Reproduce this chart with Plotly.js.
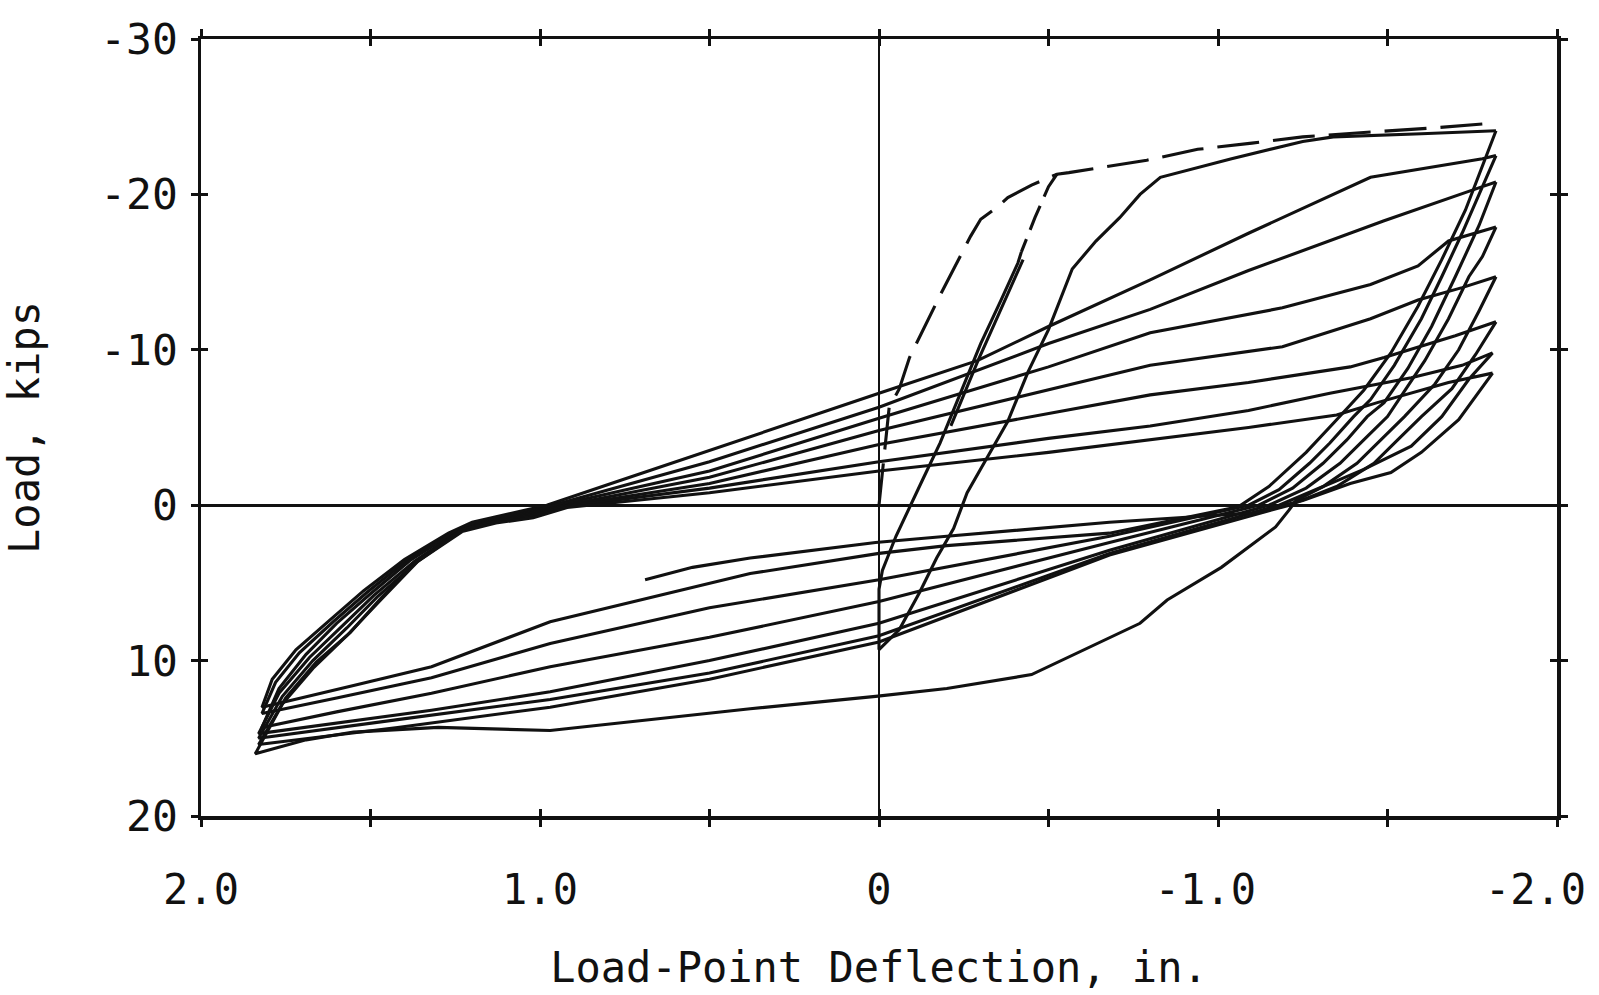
<!DOCTYPE html>
<html>
<head>
<meta charset="utf-8">
<script src="https://cdn.plot.ly/plotly-3.0.1.min.js"></script>
<style>
  html, body { margin: 0; padding: 0; background: #ffffff; }
  #chart { width: 1599px; height: 995px; }
</style>
</head>
<body>
<div id="chart"></div>
<script>
// ---------------- DATA (deflection in., load kips) ----------------
// axis ticks
const xTickVals = [2, 1.5, 1, 0.5, 0, -0.5, -1, -1.5, -2];
const xTickText = ['2.0', '', '1.0', '', '0', '', '-1.0\u00A0', '', ''];
const xEndLabel = '-2.0';          // label of the last x tick (placed inside the page edge)
const xEndValue = -2;
const yTickVals = [-30, -20, -10, 0, 10, 20];
const yTickText = ['-30', '-20', '-10', '0', '10', '20'];

// virgin loading curve and monotonic envelope (dashed)
const virginX = [0, -0.03, -0.06, -0.09, -0.18, -0.27, -0.30, -0.35, -0.38, -0.45, -0.525, -0.56, -0.79, -0.94, -1.10, -1.25, -1.44, -1.65, -1.82];
const virginY = [0, -6.3, -7.5, -9.5, -13.5, -17.3, -18.4, -19.2, -19.8, -20.6, -21.3, -21.4, -22.2, -22.9, -23.3, -23.7, -24.0, -24.3, -24.6];

// first unloading from the virgin corner (upper part dashed)
const firstUnloadDashX = [-0.525, -0.50, -0.46, -0.42];
const firstUnloadDashY = [-21.3, -20.5, -18.5, -16.3];
const firstUnloadX = [-0.42, -0.41, -0.36, -0.30, -0.24, -0.18, -0.13, -0.09, -0.05, -0.01, 0.0, 0.0];
const firstUnloadY = [-16.3, -15.6, -13.2, -10.4, -7.2, -4.0, -1.7, 0.1, 2.0, 4.2, 5.4, 9.3];
const firstUnloadTwinX = [-0.425, -0.36, -0.292, -0.212];
const firstUnloadTwinY = [-15.8, -12.6, -9.3, -5.1];

// reloading to the first full peak
const reloadX = [0.0, -0.06, -0.12, -0.17, -0.22, -0.26, -0.32, -0.38, -0.44, -0.50, -0.57, -0.64, -0.71, -0.77, -0.83, -1.04, -1.25, -1.34, -1.60, -1.82];
const reloadY = [9.3, 8.0, 5.6, 3.4, 1.5, -0.8, -3.1, -5.4, -8.6, -11.3, -15.2, -17.0, -18.5, -20.0, -21.1, -22.3, -23.4, -23.7, -23.9, -24.1];

// full cycles: unload from right peak, reload to left peak, unload, reload to next right peak
const cycle1X = [-1.82, -1.79, -1.73, -1.66, -1.59, -1.51, -1.43, -1.35, -1.26, -1.15, -1.06,
                 -0.68, -0.2, 0.0, 0.38, 0.97, 1.32, 1.55, 1.75, 1.82,
                 1.79, 1.72, 1.62, 1.52, 1.40, 1.27, 1.20, 1.08, 0.98,
                 0.79, 0.41, 0.0, -0.29, -0.5, -0.8, -1.09, -1.45, -1.78, -1.82];
const cycle1Y = [-24.1, -22.4, -19.0, -15.8, -12.8, -9.8, -7.4, -5.5, -3.4, -1.2, 0.1,
                 1.8, 2.6, 3.1, 4.4, 7.5, 10.4, 11.6, 12.6, 13.0,
                 11.2, 9.3, 7.4, 5.5, 3.5, 1.8, 1.1, 0.5, 0.0,
                 -1.4, -4.2, -7.2, -9.3, -11.5, -14.5, -17.5, -21.1, -22.3, -22.5];

const cycle2X = [-1.82, -1.78, -1.72, -1.66, -1.60, -1.52, -1.45, -1.40, -1.33, -1.27, -1.18, -1.09,
                 -0.68, 0.0, 0.5, 0.97, 1.32, 1.60, 1.82,
                 1.78, 1.71, 1.61, 1.51, 1.39, 1.26, 1.19, 1.07, 0.97,
                 0.5, 0.0, -0.5, -0.8, -1.09, -1.49, -1.78, -1.82];
const cycle2Y = [-22.5, -20.5, -17.5, -14.7, -12.0, -9.0, -6.8, -5.7, -4.0, -2.7, -1.0, 0.0,
                 2.0, 4.8, 6.6, 8.9, 11.1, 12.4, 13.4,
                 11.4, 9.5, 7.5, 5.6, 3.5, 1.8, 1.1, 0.55, 0.05,
                 -2.8, -6.3, -10.4, -12.6, -15.1, -18.3, -20.5, -20.8];

const cycle3X = [-1.82, -1.77, -1.70, -1.63, -1.56, -1.49, -1.44, -1.38, -1.31, -1.22, -1.12,
                 -0.68, 0.0, 0.5, 0.97, 1.32, 1.60, 1.82,
                 1.77, 1.69, 1.60, 1.50, 1.38, 1.25, 1.17, 1.06, 0.96,
                 0.5, 0.0, -0.5, -0.8, -1.19, -1.45, -1.59, -1.68, -1.82];
const cycle3Y = [-20.8, -18.0, -14.7, -11.5, -8.8, -6.6, -5.7, -4.2, -2.7, -1.1, 0.0,
                 2.4, 6.2, 8.5, 10.4, 12.1, 13.3, 14.3,
                 11.8, 9.6, 7.6, 5.7, 3.5, 1.7, 1.1, 0.6, 0.05,
                 -2.2, -5.6, -8.9, -11.1, -12.7, -14.2, -15.4, -17.0, -17.9];

const cycle4X = [-1.82, -1.78, -1.74, -1.68, -1.61, -1.54, -1.50, -1.43, -1.36, -1.26, -1.15,
                 -0.68, 0.0, 0.5, 0.97, 1.32, 1.60, 1.83,
                 1.77, 1.68, 1.58, 1.49, 1.37, 1.24, 1.16, 1.05, 0.95,
                 0.5, 0.0, -0.5, -0.8, -1.19, -1.45, -1.59, -1.72, -1.82];
const cycle4Y = [-17.9, -16.0, -14.7, -12.0, -9.3, -7.0, -5.7, -4.2, -2.7, -1.1, 0.0,
                 2.9, 7.6, 10.0, 12.0, 13.2, 14.0, 14.7,
                 12.1, 9.8, 7.7, 5.8, 3.6, 1.7, 1.1, 0.65, 0.1,
                 -1.8, -4.8, -7.4, -9.0, -10.2, -12.0, -13.2, -14.0, -14.7];

const cycle5X = [-1.82, -1.77, -1.71, -1.64, -1.55, -1.48, -1.41, -1.31, -1.18,
                 -0.68, 0.0, 0.5, 0.97, 1.42, 1.83,
                 1.76, 1.67, 1.57, 1.48, 1.36, 1.23, 1.15, 1.04, 0.94,
                 0.5, 0.0, -0.5, -0.8, -1.09, -1.39, -1.49, -1.70, -1.82];
const cycle5Y = [-14.7, -12.5, -10.0, -7.8, -5.7, -4.2, -2.7, -1.2, 0.0,
                 3.1, 8.4, 10.8, 12.5, 13.8, 15.0,
                 12.3, 10.0, 7.9, 5.9, 3.6, 1.6, 1.1, 0.7, 0.1,
                 -1.4, -3.9, -5.9, -7.1, -7.9, -8.9, -9.5, -10.9, -11.8];

const cycle6X = [-1.82, -1.76, -1.69, -1.60, -1.53, -1.46, -1.35, -1.21,
                 -0.68, 0.0, 0.5, 0.97, 1.42, 1.83,
                 1.75, 1.66, 1.56, 1.47, 1.36, 1.23, 1.14, 1.03, 0.93,
                 0.5, 0.0, -0.5, -0.8, -1.09, -1.33, -1.57, -1.72, -1.81];
const cycle6Y = [-11.8, -9.7, -7.5, -5.7, -4.2, -2.7, -1.2, 0.0,
                 3.2, 8.8, 11.2, 13.0, 14.3, 15.4,
                 12.4, 10.1, 8.2, 6.0, 3.5, 1.6, 1.1, 0.75, 0.1,
                 -1.1, -2.8, -4.3, -5.1, -6.1, -7.2, -8.2, -9.0, -9.8];

const cycle7X = [-1.81, -1.74, -1.66, -1.57, -1.43, -1.31, -1.23,
                 -1.21, -1.17, -1.09, -1.01, -0.85, -0.77, -0.45, -0.20, 0.01, 0.38, 0.97, 1.30, 1.55, 1.69, 1.84,
                 1.76, 1.67, 1.57, 1.47, 1.36, 1.23, 1.13, 1.02, 0.92,
                 0.5, 0.0, -0.5, -0.8, -1.09, -1.35, -1.47, -1.68, -1.81];
const cycle7Y = [-9.8, -8.1, -5.7, -3.8, -2.3, -1.2, -0.3,
                 0.3, 1.4, 2.7, 4.0, 6.1, 7.6, 10.9, 11.8, 12.3, 13.1, 14.5, 14.3, 14.6, 15.1, 16.0,
                 12.8, 10.5, 8.4, 6.1, 3.6, 1.7, 1.15, 0.8, 0.15,
                 -0.8, -2.2, -3.4, -4.2, -5.0, -5.8, -6.6, -7.9, -8.5];

// last unloading and partial reload
const finalX = [-1.81, -1.76, -1.71, -1.60, -1.51, -1.39, -1.25, -1.10, -0.68, -0.20, 0.01, 0.38, 0.55, 0.69];
const finalY = [-8.5, -7.0, -5.5, -3.4, -2.1, -1.4, -0.3, 0.5, 1.1, 2.0, 2.4, 3.4, 4.0, 4.8];

// ---------------- CHART ----------------
const INK = '#111111';
const LW = 3.1;
const solid = { color: INK, width: LW };
const dashed = { color: INK, width: LW, dash: '42px,14px' };

function line(x, y, style) {
  return { x: x, y: y, type: 'scatter', mode: 'lines', line: style, hoverinfo: 'skip', showlegend: false };
}

const traces = [
  line(virginX, virginY, dashed),
  line(firstUnloadDashX, firstUnloadDashY, { color: INK, width: LW, dash: '26px,10px' }),
  line(firstUnloadX, firstUnloadY, solid),
  line(firstUnloadTwinX, firstUnloadTwinY, solid),
  line(reloadX, reloadY, solid),
  line(cycle1X, cycle1Y, solid),
  line(cycle2X, cycle2Y, solid),
  line(cycle3X, cycle3Y, solid),
  line(cycle4X, cycle4Y, solid),
  line(cycle5X, cycle5Y, solid),
  line(cycle6X, cycle6Y, solid),
  line(cycle7X, cycle7Y, solid),
  line(finalX, finalY, solid),
  // empty trace that carries the inner tick axes
  { x: [], y: [], type: 'scatter', mode: 'lines', xaxis: 'x2', yaxis: 'y2', showlegend: false, hoverinfo: 'skip' }
];

const FONT = 'DejaVu Sans Mono, Liberation Mono, monospace';

const layout = {
  width: 1599,
  height: 995,
  margin: { l: 201, r: 42, t: 39, b: 179 },
  paper_bgcolor: '#ffffff',
  plot_bgcolor: '#ffffff',
  showlegend: false,
  font: { family: FONT, color: INK, size: 40 },
  xaxis: {
    range: [2, -2],
    tickmode: 'array', tickvals: xTickVals, ticktext: xTickText,
    ticks: 'outside', ticklen: 7, tickwidth: 3, tickcolor: INK,
    showline: true, linewidth: 3.5, linecolor: INK, mirror: 'ticks',
    showgrid: false,
    zeroline: true, zerolinewidth: 2.6, zerolinecolor: INK,
    tickfont: { family: FONT, size: 42, color: INK },
    ticklabelstandoff: 27,
    ticklabeloverflow: 'allow',
    title: { text: 'Load-Point Deflection, in.', font: { family: FONT, size: 42, color: INK }, standoff: 40 },
    fixedrange: true
  },
  yaxis: {
    range: [20, -30],
    tickmode: 'array', tickvals: yTickVals, ticktext: yTickText,
    ticks: 'outside', ticklen: 7, tickwidth: 3, tickcolor: INK,
    showline: true, linewidth: 3.5, linecolor: INK, mirror: 'ticks',
    showgrid: false,
    zeroline: true, zerolinewidth: 2.6, zerolinecolor: INK,
    tickfont: { family: FONT, size: 43, color: INK },
    ticklabelstandoff: 4,
    ticklabeloverflow: 'allow',
    title: { text: 'Load, kips', font: { family: FONT, size: 42, color: INK }, standoff: 52 },
    fixedrange: true
  },
  xaxis2: {
    overlaying: 'x', range: [2, -2],
    tickmode: 'array', tickvals: xTickVals,
    ticks: 'inside', ticklen: 7, tickwidth: 3, tickcolor: INK,
    showticklabels: false, showline: false, showgrid: false, zeroline: false,
    mirror: 'ticks', fixedrange: true
  },
  yaxis2: {
    overlaying: 'y', range: [20, -30],
    tickmode: 'array', tickvals: yTickVals,
    ticks: 'inside', ticklen: 7, tickwidth: 3, tickcolor: INK,
    showticklabels: false, showline: false, showgrid: false, zeroline: false,
    mirror: 'ticks', fixedrange: true
  },
  annotations: [{
    text: xEndLabel, xref: 'x', x: xEndValue, yref: 'paper', y: 0,
    xanchor: 'right', yanchor: 'middle', xshift: 31, yshift: -73,
    showarrow: false, font: { family: FONT, size: 42, color: INK }
  }]
};

Plotly.newPlot('chart', traces, layout, { staticPlot: true, displayModeBar: false });
</script>
</body>
</html>
